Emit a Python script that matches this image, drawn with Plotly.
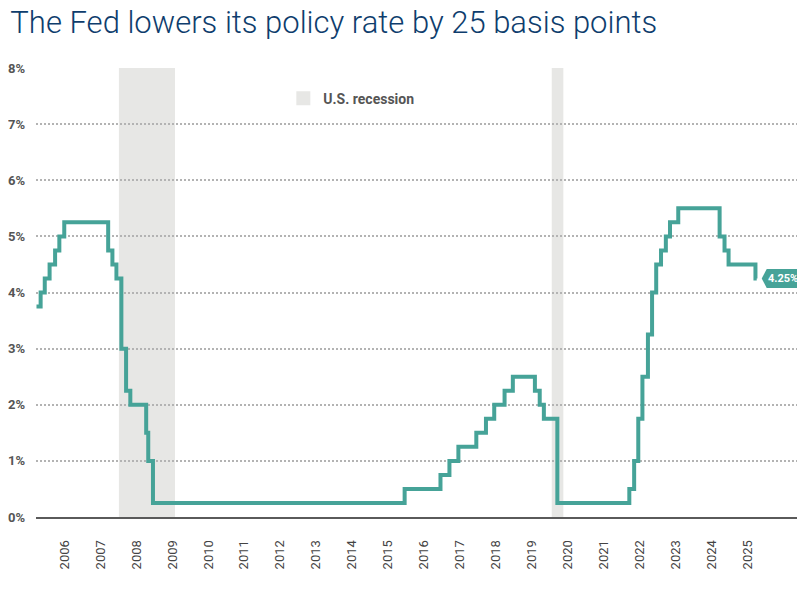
import plotly.graph_objects as go

# upper bound of the fed funds target range, at each change
rate_dates = [
    "2005-09-20", "2005-11-01", "2005-12-13", "2006-01-31", "2006-03-28",
    "2006-05-10", "2006-06-29", "2007-09-18", "2007-10-31", "2007-12-11",
    "2008-01-30", "2008-03-18", "2008-04-30", "2008-10-08", "2008-10-29",
    "2008-12-16", "2015-12-16", "2016-12-14", "2017-03-15", "2017-06-14",
    "2017-12-13", "2018-03-21", "2018-06-13", "2018-09-26", "2018-12-19",
    "2019-07-31", "2019-09-18", "2019-10-30", "2020-03-15", "2022-03-16",
    "2022-05-04", "2022-06-15", "2022-07-27", "2022-09-21", "2022-11-02",
    "2022-12-14", "2023-02-01", "2023-03-22", "2023-05-03", "2023-07-26",
    "2024-09-18", "2024-11-07", "2024-12-18", "2025-09-17", "2025-09-30",
]
rate_values = [
    3.75, 4.00, 4.25, 4.50, 4.75,
    5.00, 5.25, 4.75, 4.50, 4.25,
    3.00, 2.25, 2.00, 1.50, 1.00,
    0.25, 0.50, 0.75, 1.00, 1.25,
    1.50, 1.75, 2.00, 2.25, 2.50,
    2.25, 2.00, 1.75, 0.25, 0.50,
    1.00, 1.75, 2.50, 3.25, 4.00,
    4.50, 4.75, 5.00, 5.25, 5.50,
    5.00, 4.75, 4.50, 4.25, 4.25,
]

recession_start = ["2008-01-05", "2020-01-18"]
recession_end = ["2009-07-28", "2020-05-15"]

years = list(range(2006, 2026))
tick_dates = [f"{y}-07-01" for y in years]
tick_text = [str(y) for y in years]

TEAL = "#46a398"
GREY_TEXT = "#555555"
RECESSION_GREY = "#e7e7e5"

fig = go.Figure()

for start, end in zip(recession_start, recession_end):
    fig.add_vrect(x0=start, x1=end, fillcolor=RECESSION_GREY, opacity=1,
                  line_width=0, layer="below")

# legend entry for the recession shading
fig.add_trace(
    go.Scatter(
        x=[None], y=[None],
        mode="markers",
        name="U.S. recession",
        marker=dict(symbol="square", size=14, color=RECESSION_GREY),
        hoverinfo="skip",
    )
)

fig.add_trace(
    go.Scatter(
        x=rate_dates,
        y=rate_values,
        mode="lines",
        line=dict(color=TEAL, width=4, shape="hv"),
        showlegend=False,
        cliponaxis=False,
        hovertemplate="%{x|%b %Y}: %{y:.2f}%<extra></extra>",
    )
)

# end-of-line value tag
last_date = rate_dates[-1]
last_value = rate_values[-1]
fig.add_shape(
    type="path",
    xref="x", yref="y",
    xsizemode="pixel", ysizemode="pixel",
    xanchor=last_date, yanchor=last_value,
    path="M 5,0 L 10,-9.5 L 42,-9.5 L 42,9.5 L 10,9.5 Z",
    fillcolor=TEAL, line_width=0, layer="above",
)
fig.add_annotation(
    x=last_date, y=last_value,
    text=f"<b>{last_value:.2f}%</b>",
    showarrow=False,
    xanchor="center", xshift=26,
    font=dict(family="Roboto", size=11, color="white"),
)

# the page body adds an 8px offset, so the figure is sized to fit the window
fig.update_layout(
    width=789, height=578,
    margin=dict(l=28, r=0, t=60, b=69),
    plot_bgcolor="white", paper_bgcolor="white",
    title=dict(
        text="The Fed lowers its policy rate by 25 basis points",
        xref="container", yref="container",
        x=0.003, xanchor="left",
        y=1, yanchor="top",
        pad=dict(t=3, l=0),
        font=dict(family="Roboto", size=31, weight=300, color="#0e3d6d"),
    ),
    legend=dict(
        x=0.325, xanchor="left",
        y=0.932, yanchor="middle",
        bgcolor="rgba(0,0,0,0)",
        font=dict(family="Roboto", size=14, weight=700, color=GREY_TEXT),
    ),
    showlegend=True,
)

fig.update_xaxes(
    type="date",
    range=["2005-09-15", "2026-11-13"],
    tickvals=tick_dates,
    ticktext=tick_text,
    tickangle=-90,
    tickfont=dict(family="Roboto", size=13, color="#444444"),
    ticks="",
    ticklabelstandoff=16,
    showgrid=False,
    showline=True, linecolor="#5a5a5a", linewidth=2,
    zeroline=False,
    automargin=False,
)
fig.update_yaxes(
    range=[0, 8],
    dtick=1,
    ticksuffix="%",
    tickfont=dict(family="Roboto", size=13, weight=700, color=GREY_TEXT),
    ticklabelstandoff=10,
    showgrid=True, gridcolor="#b3b3b3", gridwidth=1.5, griddash="2px,2px",
    zeroline=False,
    automargin=False,
)

fig.write_html("out.html")
